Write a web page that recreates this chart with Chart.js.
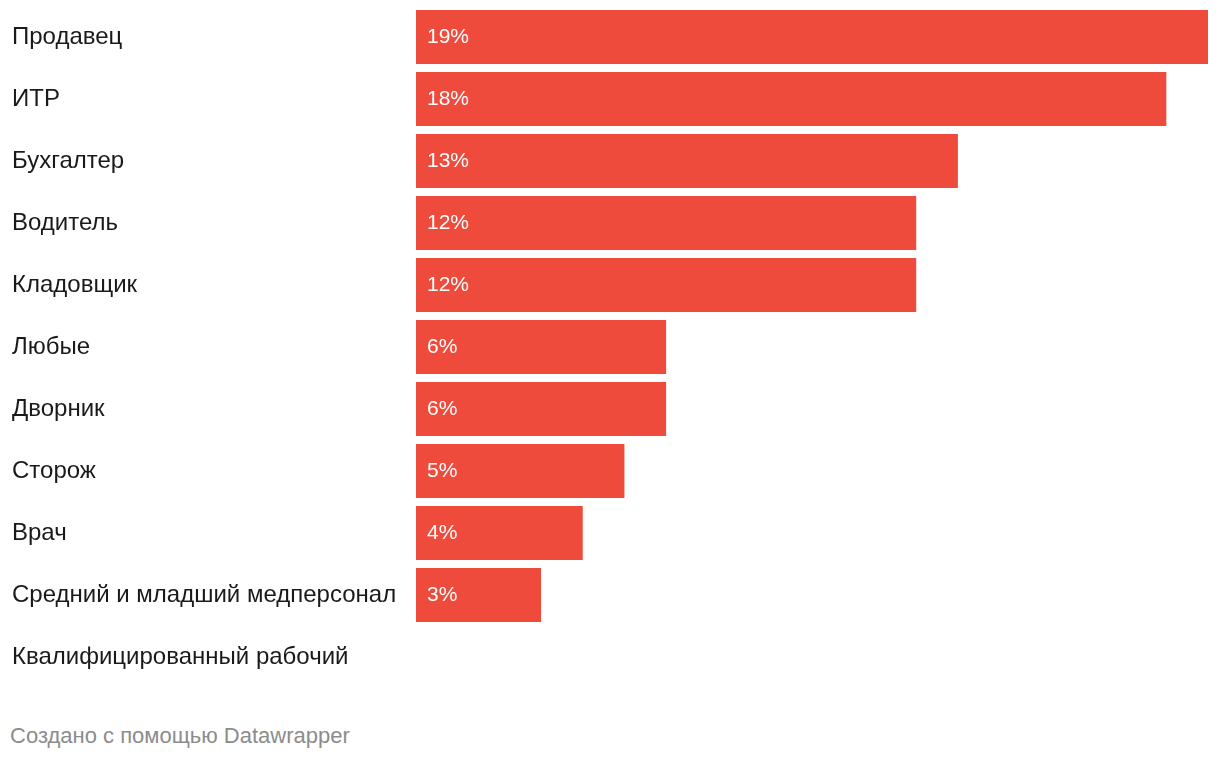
<!DOCTYPE html>
<html><head><meta charset="utf-8">
<script src="https://cdn.jsdelivr.net/npm/chart.js@4/dist/chart.umd.min.js"></script>
<style>
html,body{margin:0;padding:0;background:#fff;}
#wrap{position:relative;width:1220px;height:700px;}
#foot{position:absolute;left:10px;top:723px;font-family:"Liberation Sans",Arial,sans-serif;font-size:22px;color:#8c8c8c;}
</style></head>
<body>
<div id="wrap"><canvas id="c"></canvas></div>
<div id="foot">Создано с помощью Datawrapper</div>
<script>
const categories = ["Продавец","ИТР","Бухгалтер","Водитель","Кладовщик","Любые","Дворник","Сторож","Врач","Средний и младший медперсонал","Квалифицированный рабочий"];
const values = [19,18,13,12,12,6,6,5,4,3,0];

const valueLabels = {
  id:'valueLabels',
  afterDatasetsDraw(chart){
    const ctx = chart.ctx;
    const meta = chart.getDatasetMeta(0);
    ctx.save();
    ctx.font = '21px "Liberation Sans"';
    ctx.fillStyle = '#ffffff';
    ctx.textAlign = 'left';
    ctx.textBaseline = 'middle';
    meta.data.forEach((bar,i)=>{
      if(values[i] > 0){
        ctx.fillText(values[i] + '%', bar.base + 11, bar.y);
      }
    });
    ctx.restore();
  }
};

new Chart(document.getElementById('c'), {
  type:'bar',
  data:{labels:categories, datasets:[{data:values, backgroundColor:'#ef4b3d', barPercentage:0.871, categoryPercentage:1.0}]},
  options:{
    indexAxis:'y',
    responsive:true, maintainAspectRatio:false, animation:false,
    layout:{padding:{left:12,right:12,top:6,bottom:12}},
    plugins:{legend:{display:false},tooltip:{enabled:false}},
    scales:{
      x:{min:0,max:19,display:false},
      y:{
        grid:{display:false,drawTicks:false},
        border:{display:false},
        ticks:{crossAlign:'far',color:'#1a1a1a',font:{family:'Liberation Sans',size:24},padding:0},
        afterFit(s){ s.width = 404; s.paddingTop = 0; s.paddingBottom = 0; }
      }
    }
  },
  plugins:[valueLabels]
});
</script>
</body></html>
